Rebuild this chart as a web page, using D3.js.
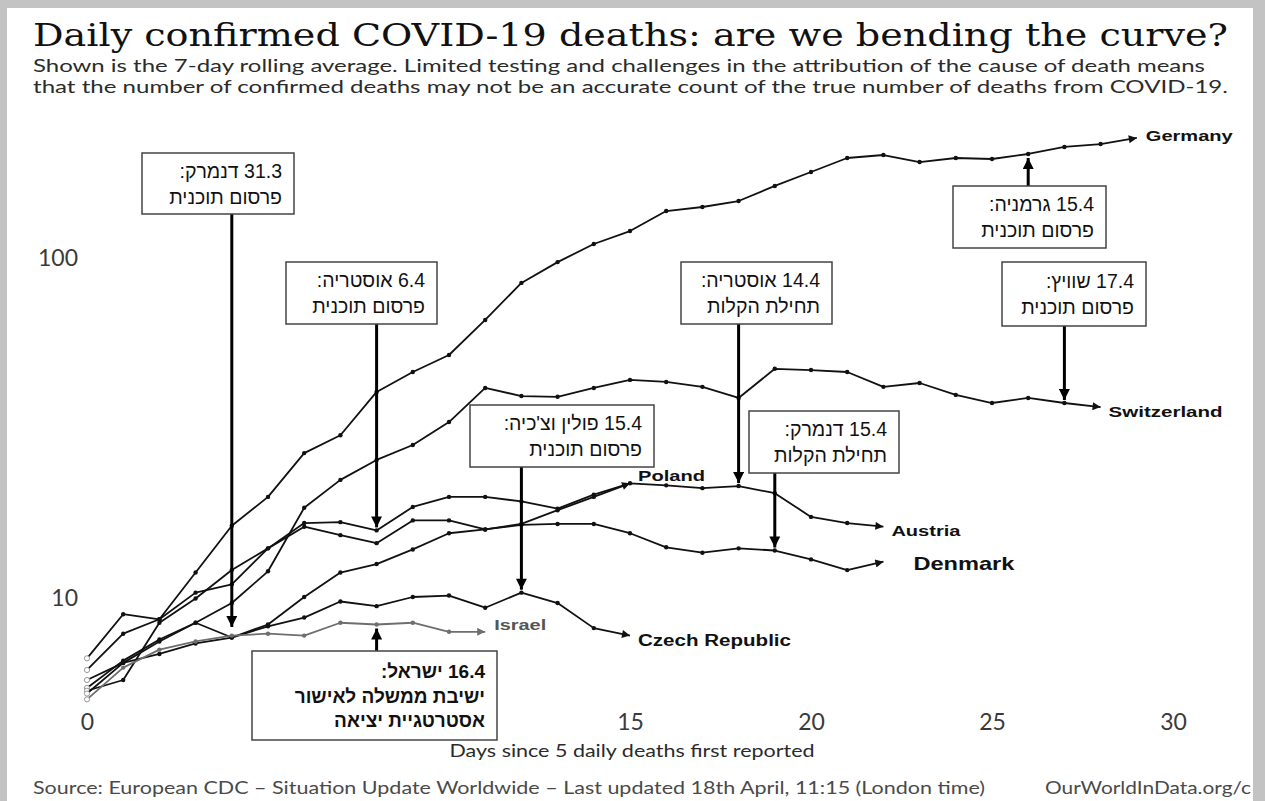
<!DOCTYPE html>
<html>
<head>
<meta charset="utf-8">
<title>Daily confirmed COVID-19 deaths</title>
<script src="https://cdn.jsdelivr.net/npm/d3@7"></script>
<style>
    body { margin: 0; background: #c3c3c3; }
    svg { display: block; }
    .title { font-family: "DejaVu Serif", serif; font-size: 31px; fill: #111; }
    .subtitle { font-family: Lato, sans-serif; font-size: 18px; fill: #2b2b2b; }
    .source { font-family: Lato, sans-serif; font-size: 16.5px; fill: #4a4a4a; }
    .axis text { font-family: Lato, sans-serif; font-size: 23px; fill: #3a3a3a; }
    .axisTitle { font-family: Lato, sans-serif; font-size: 17px; fill: #2b2b2b; }
    .note text { font-family: "Liberation Sans", Arial, sans-serif; font-size: 19.5px; fill: #111; }
    .countryLabel { font-family: "Liberation Sans", Arial, sans-serif; font-weight: bold; }
</style>
</head>
<body>
<svg width="1265" height="801"></svg>
<script>
// **** Data: 7-day rolling average of daily deaths, index = days since 5 daily deaths ****
var germany = [6.6, 8.9, 8.6, 11.8, 16.2, 19.7, 26.5, 29.9, 40.1, 45.9, 51.5, 65.3, 83.9, 96.6, 109.2,
    119.2, 136.5, 140.3, 146.1, 161.8, 177.8, 195.5, 199.5, 190.2, 195.5, 194.2, 200.9, 210.7, 214.9, 223.9];
var switzerland = [5.4, 6.5, 7.5, 8.4, 9.6, 11.9, 18.3, 22.1, 25.3, 28.0, 32.7, 41.2, 39.0, 38.8, 41.2,
    43.5, 42.9, 41.5, 38.5, 46.9, 46.5, 45.9, 41.5, 42.6, 39.3, 37.2, 38.5, 37.2, 36.2];
var austria = [6.1, 7.8, 8.6, 10.3, 10.9, 13.9, 16.5, 16.6, 15.7, 18.4, 19.7, 19.7, 19.1, 18.2, 20.0,
    21.6, 21.3, 20.9, 21.2, 20.2, 17.2, 16.5, 16.1];
var denmark = [5.3, 5.7, 8.4, 9.9, 12.0, 13.9, 16.1, 15.2, 14.4, 16.8, 16.8, 15.8, 16.3, 16.4, 16.4,
    15.4, 14.0, 13.5, 13.9, 13.7, 12.9, 12.0, 12.7];
var poland = [5.2, 6.4, 7.4, 8.4, 7.6, 8.3, 10.0, 11.8, 12.5, 13.8, 15.4, 15.8, 16.4, 18.0, 19.7, 21.6];
var czechia = [5.7, 6.4, 6.8, 7.3, 7.6, 8.2, 8.7, 9.7, 9.4, 10.0, 10.1, 9.3, 10.3, 9.6, 8.1, 7.7];
var israel = [5.0, 6.2, 7.0, 7.4, 7.7, 7.8, 7.7, 8.4, 8.3, 8.4, 7.9, 7.9];

var countryNames = ["Germany", "Switzerland", "Austria", "Denmark", "Poland", "Czech Republic", "Israel"];
var countryValues = [germany, switzerland, austria, denmark, poland, czechia, israel];

// 5 and 10 sit under the Israel box in the picture, so only these show
var xTicks = [0, 15, 20, 25, 30];
var yTicks = [10, 100];

// annotations (Hebrew), arrow points at a day / value
var notes = [
    { day: 4,  value: 8.0,             lines: ["31.3 דנמרק:", "פרסום תוכנית"] },
    { day: 8,  value: austria[8],      lines: ["6.4 אוסטריה:", "פרסום תוכנית"] },
    { day: 12, value: czechia[12],     lines: ["15.4 פולין וצ'כיה:", "פרסום תוכנית"] },
    { day: 18, value: austria[18],     lines: ["14.4 אוסטריה:", "תחילת הקלות"] },
    { day: 19, value: denmark[19],     lines: ["15.4 דנמרק:", "תחילת הקלות"] },
    { day: 26, value: germany[26],     lines: ["15.4 גרמניה:", "פרסום תוכנית"] },
    { day: 27, value: switzerland[27], lines: ["17.4 שוויץ:", "פרסום תוכנית"] },
    { day: 8,  value: israel[8],       lines: ["16.4 ישראל:", "ישיבת ממשלה לאישור", "אסטרטגיית יציאה"] }
];

var titleText = "Daily confirmed COVID-19 deaths: are we bending the curve?";
var subtitleLines = [
    "Shown is the 7-day rolling average. Limited testing and challenges in the attribution of the cause of death means",
    "that the number of confirmed deaths may not be an accurate count of the true number of deaths from COVID-19."
];
var sourceText = "Source: European CDC – Situation Update Worldwide – Last updated 18th April, 11:15 (London time)";
var urlText = "OurWorldInData.org/c";
var xTitle = "Days since 5 daily deaths first reported";

// **** Layout (kept apart from the data) ****
// box: x, y, width, height, bold
var noteBoxes = [
    [142, 153, 152, 61, false],
    [286, 262, 151, 62, false],
    [470, 405, 184, 62, false],
    [681, 262, 151, 62, false],
    [749, 411, 150, 62, false],
    [953, 186, 153, 62, false],
    [1002, 262, 144, 64, false],
    [252, 651, 245, 89, true]
];
// label offset from last point, font size, stretched width (source image is wide)
var labelLayout = [
    { dx: 9,  dy: -2, size: 15, width: 87 },
    { dx: 8,  dy: 5,  size: 15, width: 114 },
    { dx: 8,  dy: 4,  size: 14, width: 69 },
    { dx: 30, dy: 2,  size: 19, width: 101 },
    { dx: 8,  dy: -8, size: 15, width: 67 },
    { dx: 8,  dy: 5,  size: 16, width: 153 },
    { dx: 9,  dy: -7, size: 15, width: 52 }
];

var W = 1265, H = 801;
var svg = d3.select("svg");

function fitText(sel, width) {
    sel.attr("textLength", width).attr("lengthAdjust", "spacingAndGlyphs");
}

// **** Frame and headings ****
var defs = svg.append("defs");
defs.append("clipPath").attr("id", "panelClip")
    .append("rect").attr("x", 7).attr("y", 8).attr("width", 1246).attr("height", H);

var page = svg.append("g").attr("clip-path", "url(#panelClip)");
page.append("rect").attr("x", 7).attr("y", 8).attr("width", 1246).attr("height", H).attr("fill", "#fff");

page.append("text").attr("class", "title").attr("x", 33).attr("y", 46)
    .text(titleText).call(fitText, 1195);

page.selectAll(".subtitle").data(subtitleLines).enter()
    .append("text").attr("class", "subtitle")
    .attr("x", 33).attr("y", (d, i) => 72 + i * 21)
    .text(d => d)
    .each(function(d, i) { d3.select(this).call(fitText, i === 0 ? 1172 : 1195); });

page.append("text").attr("class", "source").attr("x", 33).attr("y", 794)
    .text(sourceText).call(fitText, 952);
page.append("text").attr("class", "source").attr("x", 1045).attr("y", 794)
    .text(urlText).call(fitText, 206);

// **** Scales and axes ****
var xScale = d3.scaleLinear().domain([0, 30]).range([87, 1173]);
var yScale = d3.scaleLog().domain([10, 100]).range([597, 257]);

var chartG = page.append("g");

chartG.append("g").attr("class", "x axis")
    .attr("transform", "translate(0,722)")
    .call(d3.axisBottom(xScale).tickValues(xTicks).tickSize(0).tickPadding(0))
    .call(g => g.select(".domain").remove())
    .selectAll("text").attr("y", 0).attr("dy", "0.35em");

chartG.append("g").attr("class", "y axis")
    .attr("transform", "translate(78,0)")
    .call(d3.axisLeft(yScale).tickValues(yTicks).tickFormat(d3.format("d")).tickSize(0).tickPadding(0))
    .call(g => g.select(".domain").remove())
    .selectAll("text").attr("dy", "0.35em");

chartG.append("text").attr("class", "axisTitle")
    .attr("x", 632).attr("y", 757).attr("text-anchor", "middle")
    .text(xTitle).call(fitText, 365);

// **** Arrow heads ****
function addHead(id, colour, w, h) {
    defs.append("marker").attr("id", id)
        .attr("viewBox", "0 0 10 10").attr("refX", 10).attr("refY", 5)
        .attr("markerUnits", "userSpaceOnUse")
        .attr("markerWidth", w).attr("markerHeight", h)
        .attr("orient", "auto")
        .append("path").attr("d", "M0,0 L10,5 L0,10 Z").attr("fill", colour);
}
addHead("headBlack", "#111", 11, 8);
addHead("headGrey", "#6e6e6e", 11, 8);
addHead("noteHead", "#000", 12, 11);

// **** Country lines ****
var line = d3.line()
    .x((v, i) => xScale(i))
    .y(v => yScale(v));

var countries = chartG.selectAll(".country")
    .data(countryValues)
    .enter()
    .append("g")
    .attr("class", "country");

countries.append("path")
    .attr("d", d => line(d))
    .attr("fill", "none")
    .attr("stroke", (d, i) => countryNames[i] === "Israel" ? "#6e6e6e" : "#111")
    .attr("stroke-width", 1.8)
    .attr("stroke-linejoin", "round")
    .attr("marker-end", (d, i) => countryNames[i] === "Israel" ? "url(#headGrey)" : "url(#headBlack)");

countries.each(function(d, k) {
    var colour = countryNames[k] === "Israel" ? "#6e6e6e" : "#111";
    d3.select(this).selectAll("circle")
        .data(d.slice(0, d.length - 1))
        .enter()
        .append("circle")
        .attr("cx", (v, i) => xScale(i))
        .attr("cy", v => yScale(v))
        .attr("r", (v, i) => i === 0 ? 2.6 : 2.2)
        .attr("fill", (v, i) => i === 0 ? "#fff" : colour)
        .attr("stroke", (v, i) => i === 0 ? "#999" : "none");
});

countries.append("text")
    .attr("class", "countryLabel")
    .attr("x", (d, i) => xScale(d.length - 1) + labelLayout[i].dx)
    .attr("y", (d, i) => yScale(d[d.length - 1]) + labelLayout[i].dy)
    .attr("dy", "0.35em")
    .style("font-size", (d, i) => labelLayout[i].size + "px")
    .attr("fill", (d, i) => countryNames[i] === "Israel" ? "#555" : "#111")
    .text((d, i) => countryNames[i])
    .each(function(d, i) { d3.select(this).call(fitText, labelLayout[i].width); });

// **** Annotation boxes with arrows ****
var noteG = chartG.selectAll(".note")
    .data(notes)
    .enter()
    .append("g")
    .attr("class", "note");

noteG.append("line")
    .attr("x1", d => xScale(d.day))
    .attr("x2", d => xScale(d.day))
    .attr("y1", (d, i) => {
        var b = noteBoxes[i];
        return yScale(d.value) > b[1] + b[3] ? b[1] + b[3] : b[1];
    })
    .attr("y2", (d, i) => {
        var b = noteBoxes[i];
        return yScale(d.value) > b[1] + b[3] ? yScale(d.value) - 3 : yScale(d.value) + 4;
    })
    .attr("stroke", "#000")
    .attr("stroke-width", 3)
    .attr("marker-end", "url(#noteHead)");

noteG.append("rect")
    .attr("x", (d, i) => noteBoxes[i][0])
    .attr("y", (d, i) => noteBoxes[i][1])
    .attr("width", (d, i) => noteBoxes[i][2])
    .attr("height", (d, i) => noteBoxes[i][3])
    .attr("fill", "#fff")
    .attr("stroke", "#444")
    .attr("stroke-width", 1.5);

noteG.each(function(d, i) {
    var b = noteBoxes[i];
    var lh = b[4] ? 24.5 : 26;
    var n = d.lines.length;
    d3.select(this).selectAll("text")
        .data(d.lines)
        .enter()
        .append("text")
        .attr("x", b[0] + b[2] - 12)
        .attr("y", (t, j) => b[1] + b[3] / 2 + (j - (n - 1) / 2) * lh + 7)
        .attr("direction", "rtl")
        .attr("text-anchor", "start")
        .style("font-weight", b[4] ? "bold" : "normal")
        .style("font-size", b[4] ? "19px" : null)
        .text(t => t);
});
</script>
</body>
</html>
